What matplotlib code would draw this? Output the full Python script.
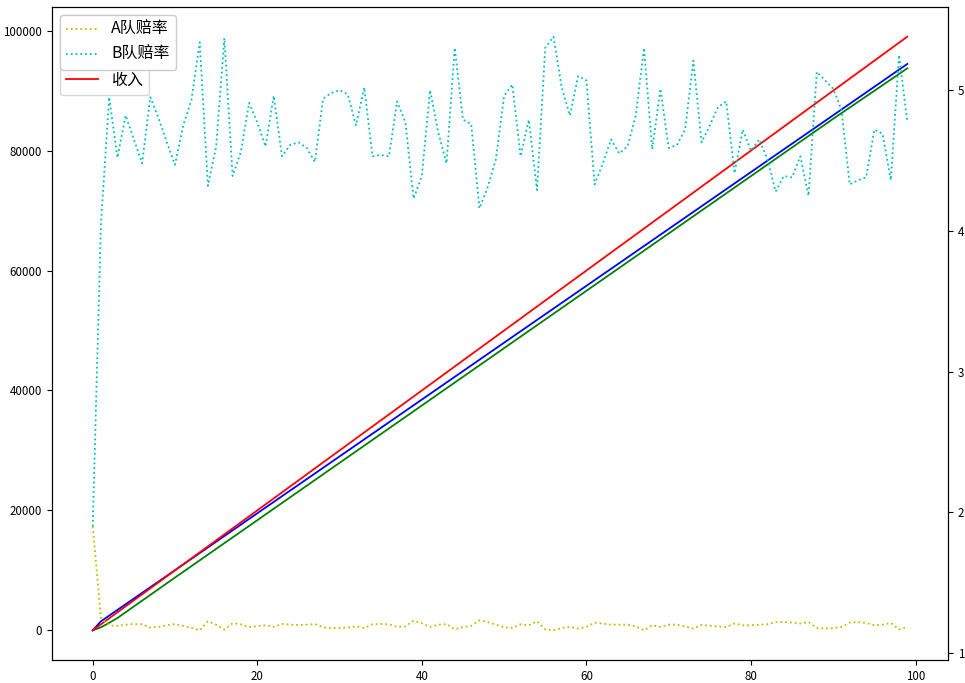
import matplotlib
matplotlib.use("Agg")
import matplotlib.pyplot as plt

plt.rcParams['font.family'] = ['Noto Sans CJK SC', 'DejaVu Sans']

# odds per round (right axis)
rounds = list(range(100))
odds_a = [1.90, 1.25, 1.198, 1.193, 1.202, 1.207, 1.205, 1.181, 1.186, 1.198,
          1.207, 1.193, 1.179, 1.162, 1.226, 1.202, 1.167, 1.212, 1.205, 1.183,
          1.193, 1.198, 1.186, 1.207, 1.202, 1.200, 1.202, 1.207, 1.183, 1.179,
          1.179, 1.181, 1.190, 1.179, 1.205, 1.207, 1.205, 1.186, 1.190, 1.231,
          1.212, 1.186, 1.202, 1.207, 1.169, 1.186, 1.193, 1.233, 1.221, 1.202,
          1.183, 1.179, 1.205, 1.198, 1.226, 1.169, 1.162, 1.179, 1.186, 1.174,
          1.186, 1.217, 1.210, 1.202, 1.202, 1.202, 1.190, 1.162, 1.198, 1.186,
          1.202, 1.202, 1.190, 1.174, 1.202, 1.193, 1.190, 1.186, 1.210, 1.198,
          1.198, 1.202, 1.205, 1.221, 1.221, 1.217, 1.210, 1.221, 1.179, 1.174,
          1.179, 1.186, 1.217, 1.221, 1.214, 1.198, 1.202, 1.214, 1.169, 1.186]
odds_b = [1.90, 4.05, 4.95, 4.52, 4.82, 4.65, 4.48, 4.95, 4.80, 4.63,
          4.47, 4.75, 4.93, 5.34, 4.32, 4.60, 5.37, 4.39, 4.56, 4.91,
          4.77, 4.60, 4.96, 4.53, 4.61, 4.63, 4.59, 4.49, 4.94, 4.98,
          5.00, 4.97, 4.75, 5.02, 4.53, 4.54, 4.53, 4.92, 4.77, 4.23,
          4.39, 5.00, 4.70, 4.48, 5.30, 4.79, 4.76, 4.16, 4.31, 4.51,
          4.96, 5.04, 4.53, 4.79, 4.29, 5.30, 5.38, 5.02, 4.82, 5.10,
          5.07, 4.33, 4.48, 4.65, 4.55, 4.60, 4.82, 5.30, 4.58, 5.01,
          4.59, 4.61, 4.72, 5.21, 4.63, 4.75, 4.88, 4.92, 4.41, 4.72,
          4.57, 4.65, 4.51, 4.28, 4.39, 4.38, 4.53, 4.25, 5.13, 5.07,
          5.01, 4.86, 4.33, 4.36, 4.38, 4.72, 4.69, 4.36, 5.25, 4.78]

# cumulative income (left axis), read at these rounds
income_rounds = [0, 1, 2, 3, 10, 20, 30, 40, 50, 60, 70, 80, 90, 99]
income_a = [0, 500, 1250, 2050, 8800, 18360, 27930, 37490, 47060,
            56620, 66180, 75750, 85310, 93720]
income_b = [0, 1500, 2450, 3400, 10030, 19520, 29000, 38480, 47970,
            57450, 66930, 76420, 85900, 94450]
income = [0, 1000, 2000, 3000, 10000, 20000, 30000, 40000, 50000,
          60000, 70000, 80000, 90000, 99000]

fig, ax = plt.subplots(figsize=(9.65, 6.83), dpi=100)
fig.subplots_adjust(left=52 / 965, right=948 / 965, top=1 - 7 / 683, bottom=1 - 660 / 683)

l1, = ax.plot(income_rounds, income_a, 'g', lw=1.3)
l2, = ax.plot(income_rounds, income_b, 'b', lw=1.3)
l3, = ax.plot(income_rounds, income, 'r', lw=1.3)
# the first two rows sit under the odds legend
ax.legend([l1, l2, l3], ['', '', '收入'], loc='upper left', fontsize=11.5)

ax2 = ax.twinx()
ax2.plot(rounds, odds_a, 'y:', lw=1.3, label='A队赔率')
ax2.plot(rounds, odds_b, 'c:', lw=1.3, label='B队赔率')
ax2.legend(loc='upper left', fontsize=11.5, framealpha=1)

ax.tick_params(labelsize=8.3)
ax2.tick_params(labelsize=8.3)

fig.savefig('out.png', dpi=100)
